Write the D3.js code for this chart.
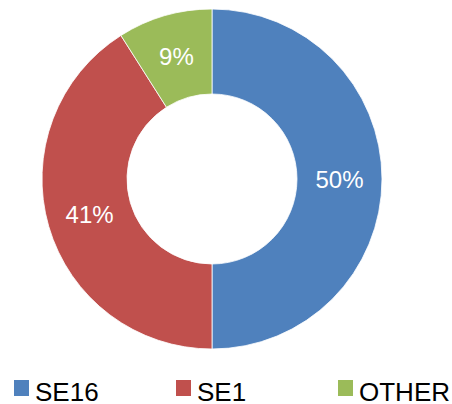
<!DOCTYPE html>
<html>
<head>
<meta charset="utf-8">
<script src="https://cdn.jsdelivr.net/npm/d3@7"></script>
<style>
  body { margin: 0; background: #fff; }
  text { font-family: "Liberation Sans", Arial, sans-serif; }
</style>
</head>
<body>
<div id="donut-chart"></div>
<script>
const categories = ['SE16', 'SE1', 'OTHER'];
const values = [50, 41, 9];
const colors = ['#4F81BD', '#C0504D', '#9BBB59'];

const width = 452;
const height = 404;
const center = {x: 212, y: 179};
const outerRadius = 170;
const innerRadius = 85;

const data = categories.map((c, i) => ({name: c, value: values[i], color: colors[i]}));

const svg = d3.select('#donut-chart')
  .append('svg')
    .attr('width', width)
    .attr('height', height);

const plot = svg.append('g')
  .attr('transform', `translate(${center.x}, ${center.y})`);

const pie = d3.pie()
  .sort(null)
  .value(d => d.value);

const arc = d3.arc()
  .innerRadius(innerRadius)
  .outerRadius(outerRadius);

const arcs = pie(data);

plot.selectAll('path')
  .data(arcs)
  .enter().append('path')
    .attr('d', arc)
    .attr('fill', d => d.data.color)
    .attr('stroke', '#fff')
    .attr('stroke-width', 0.8);

plot.selectAll('text.label')
  .data(arcs)
  .enter().append('text')
    .attr('class', 'label')
    .attr('transform', d => `translate(${arc.centroid(d)})`)
    .attr('dy', '0.36em')
    .style('text-anchor', 'middle')
    .style('font-size', '24px')
    .attr('fill', '#fff')
    .text(d => d.data.value + '%');

// legend
const legendX = d3.scalePoint()
  .domain(categories)
  .range([14, 338]);

const legend = svg.append('g')
  .selectAll('g')
  .data(data)
  .enter().append('g')
    .attr('transform', d => `translate(${legendX(d.name)}, 380)`);

legend.append('rect')
  .attr('width', 15)
  .attr('height', 16)
  .attr('fill', d => d.color);

legend.append('text')
  .attr('x', 21)
  .attr('y', 20.5)
  .style('font-size', '26px')
  .attr('fill', '#000')
  .text(d => d.name);
</script>
</body>
</html>
